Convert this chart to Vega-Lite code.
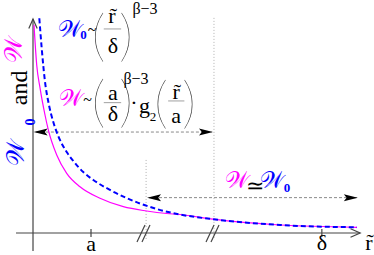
{
 "$schema": "https://vega.github.io/schema/vega-lite/v6.json",
 "width": 374, "height": 255, "padding": 0, "autosize": "none",
 "background": "white",
 "config": {"view": {"stroke": null}},
 "datasets": {
  "curves": [
   {"s":"W","x":0.017,"y":9.77},{"s":"W","x":0.064,"y":7.89},{"s":"W","x":0.121,"y":6.81},{"s":"W","x":0.207,"y":5.54},{"s":"W","x":0.264,"y":4.84},{"s":"W","x":0.409,"y":3.66},{"s":"W","x":0.581,"y":2.8},{"s":"W","x":0.81,"y":2.17},{"s":"W","x":1.155,"y":1.63},{"s":"W","x":1.557,"y":1.235},{"s":"W","x":1.96,"y":1.033},{"s":"W","x":2.305,"y":0.915},{"s":"W","x":2.534,"y":0.869},{"s":"W","x":3.103,"y":0.648},{"s":"W","x":4.259,"y":0.376},{"s":"W","x":5.586,"y":0.268},
   {"s":"W0","x":0.109,"y":10.08},{"s":"W0","x":0.15,"y":8.67},{"s":"W0","x":0.207,"y":7.1},{"s":"W0","x":0.264,"y":6.16},{"s":"W0","x":0.35,"y":5.21},{"s":"W0","x":0.436,"y":4.55},{"s":"W0","x":0.581,"y":3.8},{"s":"W0","x":0.695,"y":3.38},{"s":"W0","x":0.867,"y":2.86},{"s":"W0","x":1.04,"y":2.49},{"s":"W0","x":1.328,"y":2.02},{"s":"W0","x":1.616,"y":1.64},{"s":"W0","x":1.845,"y":1.385},{"s":"W0","x":2.133,"y":1.127},{"s":"W0","x":2.534,"y":0.869},{"s":"W0","x":3.103,"y":0.648},{"s":"W0","x":4.259,"y":0.376},{"s":"W0","x":5.586,"y":0.268}
  ],
  "segs": [
   {"k":"vdot","x":1.95,"y":3.43,"x2":1.95,"y2":-0.33},
   {"k":"vdot","x":3.12,"y":10.1,"x2":3.12,"y2":-0.33},
   {"k":"hdash","x":0.05,"y":4.74,"x2":3.08,"y2":4.74},
   {"k":"hdash","x":2.0,"y":1.66,"x2":5.58,"y2":1.66},
   {"k":"axis","x":-0.293,"y":0,"x2":5.64,"y2":0},
   {"k":"axis","x":0,"y":-0.85,"x2":0,"y2":10.05},
   {"k":"axis","x":1,"y":0.19,"x2":1,"y2":-0.19},
   {"k":"axis","x":4.98,"y":0.19,"x2":4.98,"y2":-0.19},
   {"k":"axis","x":1.793,"y":-0.42,"x2":1.931,"y2":0.376},
   {"k":"axis","x":1.879,"y":-0.42,"x2":2.017,"y2":0.376},
   {"k":"axis","x":2.983,"y":-0.42,"x2":3.121,"y2":0.376},
   {"k":"axis","x":3.069,"y":-0.42,"x2":3.207,"y2":0.376},
   {"k":"bar","x":1.22,"y":9.58,"x2":1.52,"y2":9.58},
   {"k":"bar","x":1.22,"y":6.12,"x2":1.52,"y2":6.12},
   {"k":"bar","x":2.33,"y":6.2,"x2":2.61,"y2":6.2}
  ],
  "heads": [
   {"k":"right","x":3.103,"y":4.74},{"k":"right","x":5.6,"y":1.66},
   {"k":"left","x":0.01,"y":4.74},{"k":"left","x":1.966,"y":1.66},
   {"k":"chevx","x":5.64,"y":0},{"k":"chevy","x":0,"y":10.05}
  ],
  "labels": [
   {"k":"Wb","x":0.638,"y":9.53,"t":"𝒲"},
   {"k":"sub0","x":0.871,"y":9.3,"t":"0"},
   {"k":"tl","x":1.02,"y":9.55,"t":"~"},
   {"k":"par","x":1.129,"y":9.15,"t":"("},
   {"k":"m","x":1.362,"y":10.19,"t":"r̃"},
   {"k":"m","x":1.379,"y":8.78,"t":"δ"},
   {"k":"par","x":1.603,"y":9.15,"t":")"},
   {"k":"exp","x":1.931,"y":10.52,"t":"β−3"},
   {"k":"Wm","x":0.655,"y":6.29,"t":"𝒲"},
   {"k":"tl","x":0.94,"y":6.25,"t":"~"},
   {"k":"par","x":1.129,"y":6.05,"t":"("},
   {"k":"m","x":1.379,"y":6.55,"t":"a"},
   {"k":"m","x":1.379,"y":5.59,"t":"δ"},
   {"k":"par","x":1.603,"y":6.05,"t":")"},
   {"k":"exp","x":1.776,"y":7.23,"t":"β−3"},
   {"k":"m","x":1.741,"y":6.1,"t":"·"},
   {"k":"m","x":1.922,"y":5.95,"t":"g"},
   {"k":"sub2","x":2.069,"y":5.45,"t":"2"},
   {"k":"par","x":2.207,"y":6.0,"t":"("},
   {"k":"m","x":2.466,"y":6.62,"t":"r̃"},
   {"k":"m","x":2.466,"y":5.49,"t":"a"},
   {"k":"par","x":2.69,"y":6.0,"t":")"},
   {"k":"Wm","x":3.517,"y":2.44,"t":"𝒲"},
   {"k":"m","x":3.828,"y":2.21,"t":"≃"},
   {"k":"Wb","x":4.121,"y":2.44,"t":"𝒲"},
   {"k":"sub0","x":4.379,"y":2.11,"t":"0"},
   {"k":"m","x":1.0,"y":-0.5,"t":"a"},
   {"k":"m","x":4.98,"y":-0.48,"t":"δ"},
   {"k":"m","x":5.79,"y":-0.45,"t":"r̃"},
   {"k":"rWb","x":-0.29,"y":3.76,"t":"𝒲"},
   {"k":"rsub0","x":-0.04,"y":5.21,"t":"0"},
   {"k":"rand","x":-0.224,"y":6.81,"t":"and"},
   {"k":"rWm","x":-0.33,"y":8.59,"t":"𝒲"}
  ]
 },
 "layer": [
  {"data":{"name":"segs"},"transform":[{"filter":"datum.k==='vdot'"}],
   "mark":{"type":"rule","color":"#b0b0b0","strokeWidth":1,"strokeDash":[1,2]},
   "encoding":{"x":{"field":"x","type":"quantitative","scale":{"domain":[-0.569,5.879],"nice":false,"zero":false},"axis":null},
    "y":{"field":"y","type":"quantitative","scale":{"domain":[-1.033,10.939],"nice":false,"zero":false},"axis":null},
    "x2":{"field":"x2"},"y2":{"field":"y2"}}},
  {"data":{"name":"segs"},"transform":[{"filter":"datum.k==='hdash'"}],
   "mark":{"type":"rule","color":"#8a8a8a","strokeWidth":1,"strokeDash":[3,2]},
   "encoding":{"x":{"field":"x","type":"quantitative"},"y":{"field":"y","type":"quantitative"},"x2":{"field":"x2"},"y2":{"field":"y2"}}},
  {"data":{"name":"segs"},"transform":[{"filter":"datum.k==='bar'"}],
   "mark":{"type":"rule","color":"#a0a0a0","strokeWidth":1},
   "encoding":{"x":{"field":"x","type":"quantitative"},"y":{"field":"y","type":"quantitative"},"x2":{"field":"x2"},"y2":{"field":"y2"}}},
  {"data":{"name":"segs"},"transform":[{"filter":"datum.k==='axis'"}],
   "mark":{"type":"rule","color":"#444444","strokeWidth":1.2},
   "encoding":{"x":{"field":"x","type":"quantitative"},"y":{"field":"y","type":"quantitative"},"x2":{"field":"x2"},"y2":{"field":"y2"}}},
  {"data":{"name":"curves"},"transform":[{"filter":"datum.s==='W'"}],
   "mark":{"type":"line","color":"#ff00ff","strokeWidth":1.2,"interpolate":"monotone"},
   "encoding":{"x":{"field":"x","type":"quantitative"},"y":{"field":"y","type":"quantitative"}}},
  {"data":{"name":"curves"},"transform":[{"filter":"datum.s==='W0'"}],
   "mark":{"type":"line","color":"#0000ff","strokeWidth":2,"strokeDash":[5,3],"interpolate":"monotone"},
   "encoding":{"x":{"field":"x","type":"quantitative"},"y":{"field":"y","type":"quantitative"}}},
  {"data":{"name":"heads"},"transform":[{"filter":"datum.k==='right'"}],
   "mark":{"type":"point","shape":"M0,0L-2,-0.5L-1.6,0L-2,0.5Z","filled":true,"color":"black","size":196,"opacity":1},
   "encoding":{"x":{"field":"x","type":"quantitative"},"y":{"field":"y","type":"quantitative"}}},
  {"data":{"name":"heads"},"transform":[{"filter":"datum.k==='left'"}],
   "mark":{"type":"point","shape":"M0,0L2,-0.5L1.6,0L2,0.5Z","filled":true,"color":"black","size":196,"opacity":1},
   "encoding":{"x":{"field":"x","type":"quantitative"},"y":{"field":"y","type":"quantitative"}}},
  {"data":{"name":"heads"},"transform":[{"filter":"datum.k==='chevx'"}],
   "mark":{"type":"point","shape":"M-1.6,-0.7L0,0L-1.6,0.7","filled":false,"color":"#444444","strokeWidth":1.2,"size":144,"opacity":1},
   "encoding":{"x":{"field":"x","type":"quantitative"},"y":{"field":"y","type":"quantitative"}}},
  {"data":{"name":"heads"},"transform":[{"filter":"datum.k==='chevy'"}],
   "mark":{"type":"point","shape":"M-0.7,1.6L0,0L0.7,1.6","filled":false,"color":"#444444","strokeWidth":1.2,"size":144,"opacity":1},
   "encoding":{"x":{"field":"x","type":"quantitative"},"y":{"field":"y","type":"quantitative"}}},
  {"data":{"name":"labels"},"transform":[{"filter":"datum.k==='m'"}],
   "mark":{"type":"text","font":"Liberation Serif","fontSize":22,"color":"black","align":"center","baseline":"middle"},
   "encoding":{"x":{"field":"x","type":"quantitative"},"y":{"field":"y","type":"quantitative"},"text":{"field":"t"}}},
  {"data":{"name":"labels"},"transform":[{"filter":"datum.k==='par'"}],
   "mark":{"type":"text","font":"Lato","fontWeight":200,"fontSize":56,"color":"#333333","align":"center","baseline":"middle"},
   "encoding":{"x":{"field":"x","type":"quantitative"},"y":{"field":"y","type":"quantitative"},"text":{"field":"t"}}},
  {"data":{"name":"labels"},"transform":[{"filter":"datum.k==='tl'"}],
   "mark":{"type":"text","font":"Liberation Serif","fontSize":16,"color":"black","align":"center","baseline":"middle"},
   "encoding":{"x":{"field":"x","type":"quantitative"},"y":{"field":"y","type":"quantitative"},"text":{"field":"t"}}},
  {"data":{"name":"labels"},"transform":[{"filter":"datum.k==='exp'"}],
   "mark":{"type":"text","font":"Liberation Serif","fontSize":16,"color":"black","align":"center","baseline":"middle"},
   "encoding":{"x":{"field":"x","type":"quantitative"},"y":{"field":"y","type":"quantitative"},"text":{"field":"t"}}},
  {"data":{"name":"labels"},"transform":[{"filter":"datum.k==='sub2'"}],
   "mark":{"type":"text","font":"Liberation Serif","fontSize":13,"color":"black","align":"center","baseline":"middle"},
   "encoding":{"x":{"field":"x","type":"quantitative"},"y":{"field":"y","type":"quantitative"},"text":{"field":"t"}}},
  {"data":{"name":"labels"},"transform":[{"filter":"datum.k==='Wb'"}],
   "mark":{"type":"text","font":"Liberation Serif","fontSize":23,"color":"#0000ff","align":"center","baseline":"middle"},
   "encoding":{"x":{"field":"x","type":"quantitative"},"y":{"field":"y","type":"quantitative"},"text":{"field":"t"}}},
  {"data":{"name":"labels"},"transform":[{"filter":"datum.k==='Wm'"}],
   "mark":{"type":"text","font":"Liberation Serif","fontSize":23,"color":"#ff00ff","align":"center","baseline":"middle"},
   "encoding":{"x":{"field":"x","type":"quantitative"},"y":{"field":"y","type":"quantitative"},"text":{"field":"t"}}},
  {"data":{"name":"labels"},"transform":[{"filter":"datum.k==='sub0'"}],
   "mark":{"type":"text","font":"Liberation Serif","fontSize":13,"fontWeight":"bold","color":"#0000ff","align":"center","baseline":"middle"},
   "encoding":{"x":{"field":"x","type":"quantitative"},"y":{"field":"y","type":"quantitative"},"text":{"field":"t"}}},
  {"data":{"name":"labels"},"transform":[{"filter":"datum.k==='rWb'"}],
   "mark":{"type":"text","font":"Liberation Serif","fontSize":25,"color":"#0000ff","align":"center","baseline":"middle","angle":270},
   "encoding":{"x":{"field":"x","type":"quantitative"},"y":{"field":"y","type":"quantitative"},"text":{"field":"t"}}},
  {"data":{"name":"labels"},"transform":[{"filter":"datum.k==='rWm'"}],
   "mark":{"type":"text","font":"Liberation Serif","fontSize":25,"color":"#ff00ff","align":"center","baseline":"middle","angle":270},
   "encoding":{"x":{"field":"x","type":"quantitative"},"y":{"field":"y","type":"quantitative"},"text":{"field":"t"}}},
  {"data":{"name":"labels"},"transform":[{"filter":"datum.k==='rsub0'"}],
   "mark":{"type":"text","font":"Liberation Serif","fontSize":14,"fontWeight":"bold","color":"#0000ff","align":"center","baseline":"middle","angle":270},
   "encoding":{"x":{"field":"x","type":"quantitative"},"y":{"field":"y","type":"quantitative"},"text":{"field":"t"}}},
  {"data":{"name":"labels"},"transform":[{"filter":"datum.k==='rand'"}],
   "mark":{"type":"text","font":"Liberation Serif","fontSize":24,"color":"black","align":"center","baseline":"middle","angle":270},
   "encoding":{"x":{"field":"x","type":"quantitative"},"y":{"field":"y","type":"quantitative"},"text":{"field":"t"}}}
 ]
}
